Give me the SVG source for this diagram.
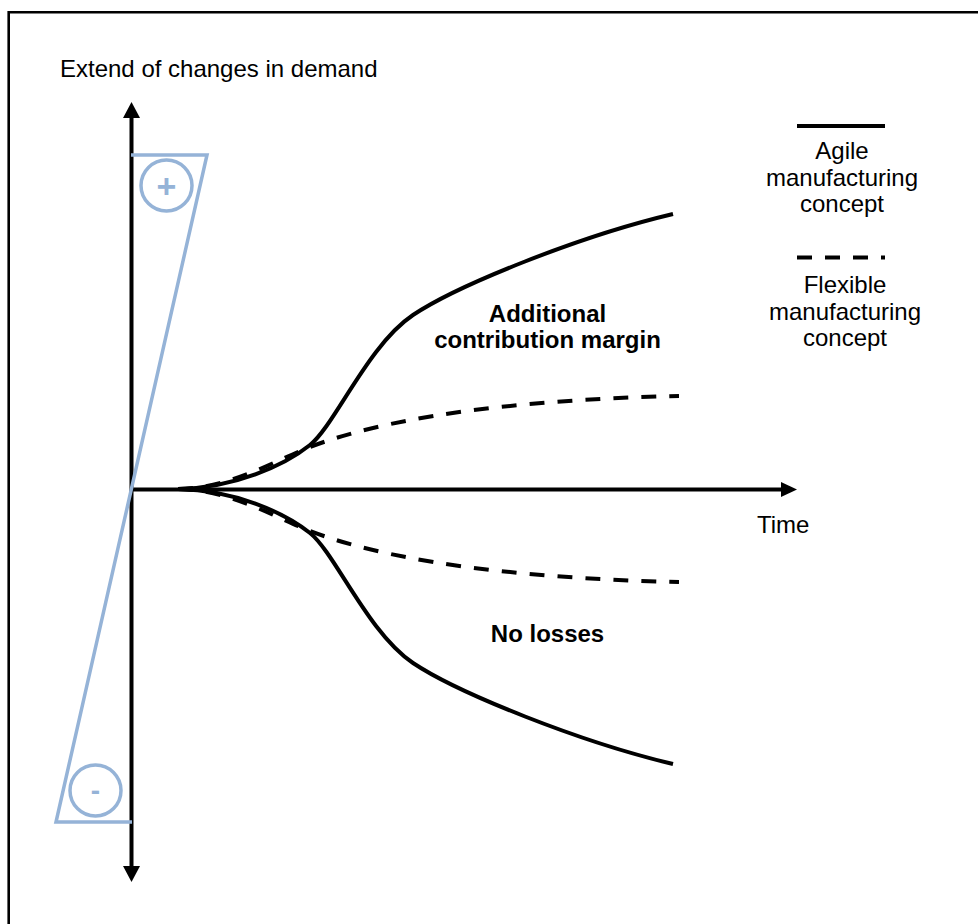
<svg xmlns="http://www.w3.org/2000/svg" width="978" height="924" viewBox="0 0 978 924">
  <style>
    .txt { font-family: "Liberation Sans", Arial, sans-serif; font-size: 24px; fill: #000; }
    .bold { font-weight: bold; }
    .mid { text-anchor: middle; }
    .axis { stroke: #000; stroke-width: 4; fill: none; }
    .curve { stroke: #000; stroke-width: 4; fill: none; }
    .dash { stroke-dasharray: 15 13; }
    .blue { stroke: #95B3D7; stroke-width: 3.5; fill: none; }
    .sign { font-family: "Liberation Sans", Arial, sans-serif; font-weight: bold; fill: #95B3D7; text-anchor: middle; }
  </style>

  <rect x="0" y="0" width="978" height="924" fill="#fff"/>
  <!-- outer frame, open to the right and bottom -->
  <path d="M8.7,924 V12.2 H978" fill="none" stroke="#000" stroke-width="2.6"/>

  <g id="axes">
    <line class="axis" x1="131.5" y1="116" x2="131.5" y2="868"/>
    <polygon points="131.5,102 123,118 140,118" fill="#000"/>
    <polygon points="131.5,882 123,866 140,866" fill="#000"/>
    <line class="axis" x1="131.5" y1="489.5" x2="783" y2="489.5"/>
    <polygon points="797,489.5 781,482 781,497" fill="#000"/>
  </g>

  <g id="demand-range">
    <polyline class="blue" points="131,155 207,155 56,822 132,822"/>
    <circle class="blue" cx="166.5" cy="185.5" r="25.5"/>
    <text class="sign" x="166.5" y="197.5" font-size="34">+</text>
    <circle class="blue" cx="95.5" cy="790.5" r="25.5"/>
    <text class="sign" x="95.5" y="800" font-size="28">-</text>
  </g>

  <g id="connectors">
    <!-- agile manufacturing concept, upper branch -->
    <path id="agile-up" class="curve" d="M178,489 C235,488 285,465 310,445 C335,425 368,345 413,315 C458,285 580,236 673,214"/>
    <!-- agile manufacturing concept, lower branch -->
    <path id="agile-down" class="curve" d="M178,489 C235,490 285,513 310,533 C335,553 368,633 413,663 C458,693 580,742 673,764"/>
    <!-- flexible manufacturing concept, upper branch -->
    <path id="flex-up" class="curve dash" d="M178,489 C230,488 270,463 310,447 C380,420 500,400 679,396"/>
    <!-- flexible manufacturing concept, lower branch -->
    <path id="flex-down" class="curve dash" d="M178,489 C230,490 270,515 310,531 C380,558 500,578 679,582"/>
  </g>

  <g id="legend-agile">
    <line x1="797" y1="126" x2="885" y2="126" stroke="#000" stroke-width="4"/>
    <text class="txt mid" x="842" y="159">Agile</text>
    <text class="txt mid" x="842" y="186">manufacturing</text>
    <text class="txt mid" x="842" y="212">concept</text>
  </g>

  <g id="legend-flexible">
    <line x1="797" y1="257.5" x2="885" y2="257.5" stroke="#000" stroke-width="4" stroke-dasharray="15 13"/>
    <text class="txt mid" x="845" y="293">Flexible</text>
    <text class="txt mid" x="845" y="320">manufacturing</text>
    <text class="txt mid" x="845" y="346">concept</text>
  </g>

  <g id="labels">
    <text class="txt" x="60" y="77">Extend of changes in demand</text>
    <text class="txt" x="757" y="533">Time</text>
    <text class="txt bold mid" x="547.5" y="322">Additional</text>
    <text class="txt bold mid" x="547.5" y="348">contribution margin</text>
    <text class="txt bold mid" x="547.5" y="642">No losses</text>
  </g>
</svg>
